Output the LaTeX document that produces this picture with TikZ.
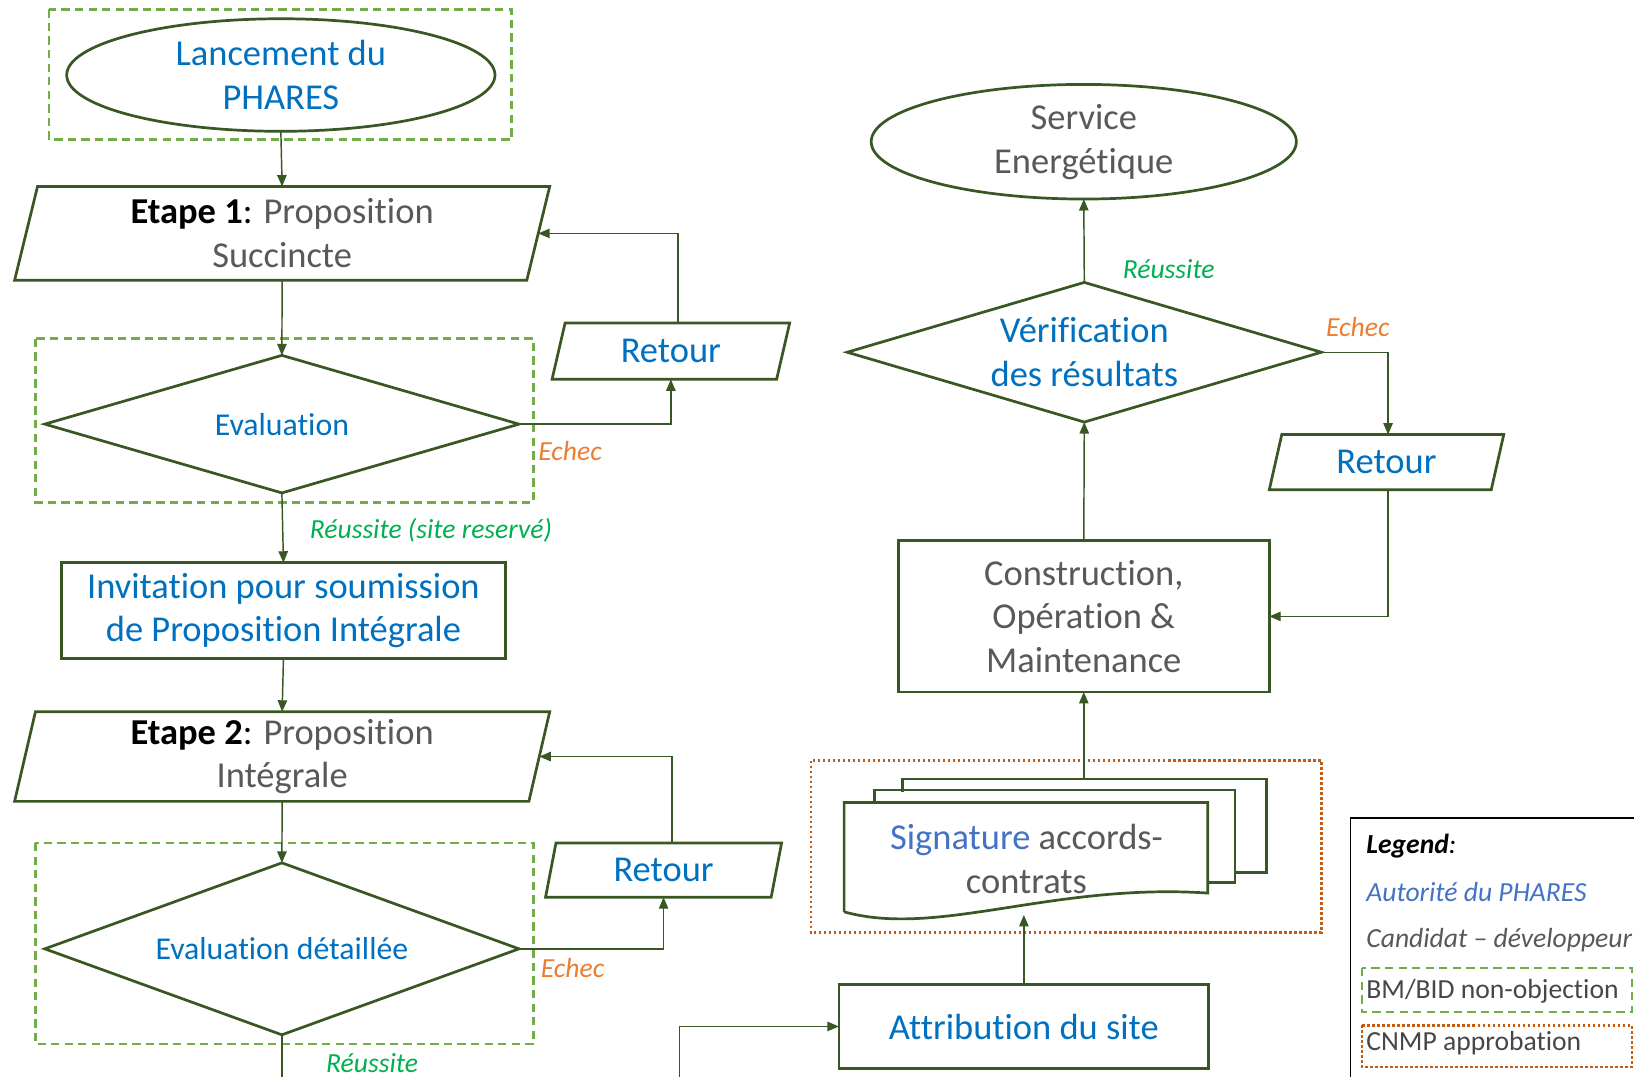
\documentclass[tikz,border=0pt]{standalone}
\usepackage{fontspec}
\setmainfont{Carlito}[Ligatures={NoCommon,NoContextual},RawFeature={-liga;-clig;-calt;-rlig;-dlig}]
\usetikzlibrary{arrows.meta,calc}
\definecolor{dkgreen}{HTML}{385723}
\definecolor{boxgreen}{HTML}{70AD47}
\definecolor{boxorange}{HTML}{C55A11}
\definecolor{txtblue}{HTML}{0070C0}
\definecolor{txtlblue}{HTML}{4472C4}
\definecolor{txtgray}{HTML}{595959}
\definecolor{okgreen}{HTML}{00B050}
\definecolor{failorange}{HTML}{ED7D31}
\newcommand\drawpara[2]{\draw[shp] ([xshift=#2pt]#1.north west) -- ([xshift=#2pt]#1.north east) -- ([xshift=-#2pt]#1.south east) -- ([xshift=-#2pt]#1.south west) -- cycle;}
\newcommand\drawdiam[1]{\draw[shp] (#1.north) -- (#1.east) -- (#1.south) -- (#1.west) -- cycle;}
\begin{document}
\begin{tikzpicture}[x=1pt,y=-1pt,
  shp/.style={draw=dkgreen,line width=2.6pt},
  conn/.style={draw=dkgreen,line width=1.4pt,-{Triangle[length=11pt,width=9pt]}},
  gbox/.style={draw=boxgreen,line width=2.4pt,dash pattern=on 8pt off 5pt},
  obox/.style={draw=boxorange,line width=2.4pt,dash pattern=on 2.4pt off 2.4pt},
  abox/.style={inner sep=0pt,outer sep=0pt,align=center},
  big/.style={font=\fontsize{35}{42}\selectfont},
  mid/.style={font=\fontsize{30.5}{37}\selectfont},
  lbl/.style={inner sep=0pt,font=\fontsize{26.5}{31}\selectfont\itshape},
  leg/.style={inner sep=0pt,anchor=west,font=\fontsize{26.5}{31}\selectfont},
]
\fill[white] (0,0) rectangle (1568,1033);
\useasboundingbox (0,0) rectangle (1568,1033);

% approval boxes
\draw[gbox] (47,9) rectangle (491,134);
\draw[gbox] (34,325) rectangle (512,482);
\draw[gbox] (34,809) rectangle (512,1002);
\draw[obox] (778,730) rectangle (1268,895);

% left column
\node[abox,big,text=txtblue,minimum width=411pt,minimum height=108pt] (ell1) at (269.5,72) {Lancement du\\PHARES};
\draw[shp] (ell1.center) ellipse [x radius=205.5pt, y radius=54pt];

\node[abox,big,minimum width=491.5pt,minimum height=90pt] (et1) at (270.75,224) {\textbf{Etape 1}: \textcolor{txtgray}{Proposition}\\\textcolor{txtgray}{Succincte}};
\drawpara{et1}{11}

\node[abox,mid,text=txtblue,minimum width=455pt,minimum height=132pt] (dia1) at (270.5,407) {Evaluation};
\drawdiam{dia1}

\node[abox,big,text=txtblue,minimum width=215.5pt,minimum height=54pt] (ret1) at (643.75,337) {Retour};
\drawpara{ret1}{6.25}

\node[abox,big,text=txtblue,minimum width=426pt,minimum height=92pt,draw=dkgreen,line width=2.6pt] (inv) at (272,586) {Invitation pour soumission\\de Proposition Intégrale};

\node[abox,big,minimum width=493.5pt,minimum height=86pt] (et2) at (270.75,726) {\textbf{Etape 2}: \textcolor{txtgray}{Proposition}\\\textcolor{txtgray}{Intégrale}};
\drawpara{et2}{10}

\node[abox,mid,text=txtblue,minimum width=455pt,minimum height=165pt] (dia2) at (270.5,910.5) {Evaluation détaillée};
\drawdiam{dia2}

\node[abox,big,text=txtblue,minimum width=216.5pt,minimum height=52pt] (ret2) at (636.75,835) {Retour};
\drawpara{ret2}{5}

% right column
\node[abox,big,text=txtgray,minimum width=408pt,minimum height=110pt] (ell2) at (1040,136) {Service\\Energétique};
\draw[shp] (ell2.center) ellipse [x radius=204pt, y radius=55pt];

\node[abox,big,text=txtblue,minimum width=455pt,minimum height=134pt] (ver) at (1040.5,338) {Vérification\\des résultats};
\drawdiam{ver}

\node[abox,big,text=txtblue,minimum width=213pt,minimum height=53pt] (ret3) at (1330.5,443.5) {Retour};
\drawpara{ret3}{6}

\node[abox,big,text=txtgray,minimum width=356pt,minimum height=145pt,draw=dkgreen,line width=2.6pt] (cons) at (1040,591.5) {Construction,\\Opération \&\\Maintenance};

% multi-document
\draw[shp] (866,760) -- (866,747.5) -- (1215,747.5) -- (1215,837) -- (1185,837);
\draw[shp] (839,770) -- (839,758) -- (1185,758) -- (1185,847) -- (1159,847);
\draw[shp] (810,875) -- (810,770) -- (1159,770) -- (1159,857) .. controls (1010,847) and (900,900) .. (810,875);
\node[abox,big,text=txtgray] (sig) at (985,824) {\textcolor{txtlblue}{Signature} accords-\\contrats};
\coordinate (sigout) at (1041,747.5);
\coordinate (sigin) at (983,878);

\node[abox,big,text=txtblue,minimum width=355pt,minimum height=80pt,draw=dkgreen,line width=2.6pt] (attr) at (982.5,985) {Attribution du site};

% connectors
\draw[conn] (ell1.south) -- (et1.north);
\draw[conn] (et1.south) -- (dia1.north);
\draw[conn] (dia1.east) -| (ret1.south);
\draw[conn] ([xshift=7pt]ret1.north) |- (et1.east);
\draw[conn] (dia1.south) -- (inv.north);
\draw[conn] (inv.south) -- (et2.north);
\draw[conn] (et2.south) -- (dia2.north);
\draw[conn] (dia2.east) -| (ret2.south);
\draw[conn] ([xshift=8pt]ret2.north) |- (et2.east);
\coordinate (offA) at (270.5,1060);
\coordinate (offB) at (652,1060);
\draw[conn] (dia2.south) -- (offA) -- (offB) |- (attr.west);
\draw[conn] (attr.north) -- (attr.north |- sigin);
\draw[conn] (cons.south |- sigout) -- (cons.south);
\draw[conn] (cons.north) -- (ver.south);
\draw[conn] (ver.north) -- (ell2.south);
\draw[conn] (ver.east) -| ([xshift=1.5pt]ret3.north);
\draw[conn] ([xshift=1.5pt]ret3.south) |- (cons.east);

% labels
\node[lbl,text=failorange] (e1) at (547,433) {Echec};
\node[lbl,text=okgreen] (r1) at (413.5,509) {Réussite (site reservé)};
\node[lbl,text=failorange] (e2) at (549.5,929) {Echec};
\node[lbl,text=okgreen] (r2) at (357,1020) {Réussite};
\node[lbl,text=okgreen] (r3) at (1121.5,258) {Réussite};
\node[lbl,text=failorange] (e3) at (1303,314) {Echec};

% legend
\draw[black,line width=1.3pt] (1296,785) rectangle (1640,1070);
\node[leg,font=\fontsize{26.5}{31}\selectfont\bfseries\itshape] (lg0) at (1311,812) {Legend\textmd{:}};
\node[leg,font=\fontsize{26.5}{31}\selectfont\itshape,text=txtlblue] (lg1) at (1311,856) {Autorité du PHARES};
\node[leg,font=\fontsize{26.5}{31}\selectfont\itshape,text=txtgray] (lg2) at (1311,902) {Candidat – développeur};
\draw[gbox] (1307,929) rectangle (1566,971);
\node[leg,text=txtgray!80!black] (lg3) at (1311,951) {BM/BID non-objection};
\draw[obox] (1307,984) rectangle (1566,1024);
\node[leg,text=txtgray!80!black] (lg4) at (1311,1001) {CNMP approbation};
\end{tikzpicture}
\end{document}
